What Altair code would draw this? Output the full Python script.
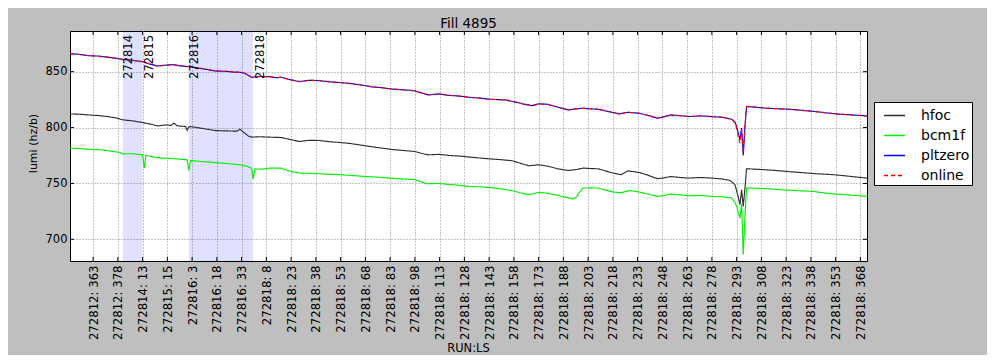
import altair as alt
import pandas as pd

title_text = "Fill 4895"
series_names = ["hfoc", "bcm1f", "pltzero", "online"]
series_colors = ["#2e2e2e", "#00f000", "#0000ff", "#ff0000"]
series_dash = [[1, 0], [1, 0], [1, 0], [4, 3]]

# x = lumisection index along the fill
pltzero_idx = [0, 5, 11, 17, 23, 28, 32, 38, 44, 48, 53, 58, 62, 67, 72, 78, 83, 88, 95, 100, 103, 106, 110, 115, 121, 125, 128, 133, 139, 145, 151, 157, 164, 170, 175, 179, 184, 189, 195, 200, 205, 209, 213, 217, 221, 224, 229, 235, 242, 248, 254, 259, 264, 270, 275, 280, 284, 289, 294, 298, 302, 306, 311, 315, 320, 326, 333, 338, 345, 350, 356, 360, 364, 370, 375, 382, 389, 395, 401, 403, 404, 405, 406, 407, 408, 409, 410, 415, 422, 429, 436, 444, 452, 459, 466, 474, 483]
pltzero_val = [866.0, 865.6, 864.3, 864.0, 862.9, 862.0, 861.0, 860.2, 858.9, 857.0, 855.1, 855.8, 856.3, 855.2, 854.5, 853.2, 852.0, 850.6, 850.3, 849.6, 849.5, 848.5, 845.0, 845.7, 845.5, 844.6, 845.0, 843.0, 841.1, 842.3, 842.0, 841.0, 840.2, 839.4, 838.3, 837.5, 836.2, 835.7, 834.5, 834.0, 833.4, 832.8, 831.0, 829.2, 829.8, 830.1, 828.9, 828.3, 827.1, 826.4, 825.4, 825.0, 824.7, 822.8, 821.0, 819.6, 821.2, 820.9, 819.0, 817.3, 815.8, 816.6, 817.3, 816.8, 816.4, 814.4, 812.2, 813.7, 812.8, 811.0, 808.4, 809.6, 811.3, 810.6, 809.8, 810.4, 809.8, 809.2, 807.5, 805.0, 800.9, 795.0, 789.0, 799.5, 775.0, 800.0, 818.8, 818.3, 817.3, 816.8, 816.4, 815.3, 814.3, 813.0, 812.0, 811.3, 810.4]

online_idx = [0, 5, 11, 17, 23, 28, 32, 38, 44, 48, 53, 58, 62, 67, 72, 78, 83, 88, 95, 100, 103, 106, 110, 115, 121, 125, 128, 133, 139, 145, 151, 157, 164, 170, 175, 179, 184, 189, 195, 200, 205, 209, 213, 217, 221, 224, 229, 235, 242, 248, 254, 259, 264, 270, 275, 280, 284, 289, 294, 298, 302, 306, 311, 315, 320, 326, 333, 338, 345, 350, 356, 360, 364, 370, 375, 382, 389, 395, 401, 403, 404, 405, 406, 407, 408, 409, 410, 415, 422, 429, 436, 444, 452, 459, 466, 474, 483]
online_val = [866.2, 865.4, 864.5, 863.8, 863.0, 861.8, 861.1, 860.0, 859.0, 857.1, 855.0, 855.9, 856.2, 855.3, 854.4, 853.3, 851.9, 850.7, 850.2, 849.7, 849.4, 848.6, 845.1, 845.6, 845.6, 844.5, 845.1, 842.9, 841.2, 842.2, 842.1, 840.9, 840.3, 839.3, 838.4, 837.4, 836.3, 835.6, 834.6, 833.9, 833.5, 832.7, 831.1, 829.3, 829.7, 830.2, 828.8, 828.4, 827.0, 826.5, 825.3, 825.1, 824.6, 822.9, 820.9, 819.7, 821.1, 821.0, 818.9, 817.4, 815.7, 816.7, 817.2, 816.9, 816.3, 814.5, 812.1, 813.8, 812.7, 811.1, 808.3, 809.7, 811.2, 810.7, 809.7, 810.5, 809.7, 809.3, 807.4, 804.5, 799.0, 792.0, 786.0, 798.0, 778.0, 801.0, 818.7, 818.4, 817.2, 816.9, 816.3, 815.4, 814.2, 813.1, 811.9, 811.4, 810.3]

hfoc_idx = [0, 5, 11, 17, 23, 28, 32, 38, 44, 49, 53, 58, 61, 63, 65, 70, 71, 72, 73, 80, 88, 95, 101, 103, 105, 108, 110, 115, 121, 128, 133, 139, 145, 151, 157, 164, 170, 179, 184, 189, 195, 201, 209, 213, 217, 224, 230, 236, 242, 248, 254, 261, 268, 273, 278, 284, 290, 296, 302, 307, 311, 316, 320, 325, 329, 334, 338, 345, 350, 356, 360, 364, 370, 375, 382, 389, 395, 400, 403, 405, 406, 407, 408, 409, 410, 415, 422, 430, 437, 444, 452, 463, 473, 483]
hfoc_val = [812.2, 812.0, 811.3, 810.8, 809.8, 808.6, 806.9, 806.0, 804.5, 803.0, 801.5, 802.4, 801.8, 803.9, 801.5, 801.0, 797.5, 800.5, 800.9, 799.3, 797.3, 797.0, 796.8, 798.5, 796.0, 792.5, 791.4, 791.8, 791.4, 791.1, 789.5, 787.5, 788.6, 788.4, 787.4, 786.6, 785.7, 783.7, 782.6, 781.6, 780.4, 779.6, 778.6, 777.0, 775.6, 776.0, 775.0, 774.5, 773.6, 772.8, 772.0, 771.3, 770.3, 768.0, 765.8, 766.7, 765.3, 763.0, 761.6, 762.5, 763.7, 763.3, 763.1, 761.0, 759.3, 757.8, 761.3, 759.8, 757.5, 754.2, 755.0, 756.2, 755.3, 754.8, 755.3, 754.8, 754.0, 752.7, 748.8, 738.0, 731.0, 744.4, 729.5, 745.0, 763.1, 762.8, 762.2, 761.3, 760.4, 759.6, 758.7, 757.8, 756.3, 754.8]

bcm1f_idx = [0, 6, 12, 19, 25, 30, 32, 38, 44, 45, 46, 51, 56, 62, 68, 71, 72, 73, 80, 87, 95, 103, 107, 110, 111, 112, 117, 121, 128, 133, 139, 145, 151, 157, 164, 170, 179, 184, 189, 195, 201, 209, 213, 216, 224, 230, 236, 242, 248, 254, 261, 268, 273, 278, 284, 289, 294, 300, 305, 307, 309, 311, 316, 320, 325, 329, 334, 339, 345, 350, 356, 360, 364, 370, 375, 382, 389, 395, 401, 403, 404, 405, 406, 407, 408, 409, 410, 415, 422, 430, 440, 450, 457, 464, 473, 483]
bcm1f_val = [781.6, 781.2, 780.4, 780.1, 778.8, 777.8, 776.5, 776.6, 775.6, 763.7, 775.3, 773.5, 772.7, 772.3, 771.5, 771.2, 761.6, 770.5, 769.6, 768.8, 767.8, 766.7, 765.5, 763.7, 754.0, 763.0, 762.8, 763.7, 763.7, 761.0, 759.3, 759.0, 758.7, 758.2, 757.8, 757.2, 756.2, 755.8, 755.4, 754.6, 754.1, 753.3, 751.5, 749.7, 750.0, 749.0, 748.4, 747.3, 747.0, 746.4, 745.2, 743.5, 741.6, 739.9, 742.0, 741.2, 739.9, 737.8, 736.0, 737.9, 742.5, 745.9, 746.0, 745.9, 743.9, 742.3, 741.7, 743.7, 742.3, 740.6, 738.4, 739.2, 740.5, 739.8, 739.0, 739.2, 738.4, 738.2, 737.0, 733.0, 729.5, 724.0, 719.1, 732.0, 686.3, 720.0, 745.9, 745.7, 745.3, 744.5, 743.6, 742.9, 741.5, 740.5, 739.6, 738.4]

# runs
run_names = ["272814", "272815", "272816", "272818"]
run_start = [32, 45, 72, 112]
band_start = [32, 72]
band_end = [44, 111]

tick_idx = [14, 29, 44, 59, 74, 89, 104, 119, 134, 149, 164, 179, 194, 209, 224, 239, 254, 269, 284, 299, 314, 329, 344, 359, 374, 389, 404, 419, 434, 449, 464, 479]
tick_labels = ["272812: 363", "272812: 378", "272814: 13", "272815: 15", "272816: 3", "272816: 18", "272816: 33",
               "272818: 8", "272818: 23", "272818: 38", "272818: 53", "272818: 68", "272818: 83", "272818: 98",
               "272818: 113", "272818: 128", "272818: 143", "272818: 158", "272818: 173", "272818: 188", "272818: 203",
               "272818: 218", "272818: 233", "272818: 248", "272818: 263", "272818: 278", "272818: 293", "272818: 308",
               "272818: 323", "272818: 338", "272818: 353", "272818: 368"]
y_ticks = [700, 750, 800, 850]

FONT = "DejaVu Sans"
W, H = 797, 230
TICK = 4

rows = []
for name, xs, ys in [("hfoc", hfoc_idx, hfoc_val), ("bcm1f", bcm1f_idx, bcm1f_val),
                     ("pltzero", pltzero_idx, pltzero_val), ("online", online_idx, online_val)]:
    for i, v in zip(xs, ys):
        rows.append({"series": name, "idx": i, "lumi": v})
df = pd.DataFrame(rows)
bands_df = pd.DataFrame({"start": band_start, "end": band_end})
runs_df = pd.DataFrame({"start": run_start, "run": run_names})
xt_df = pd.DataFrame({"t": tick_idx})
yt_df = pd.DataFrame({"t": y_ticks})

x_scale = alt.Scale(domain=[0, 483], nice=False, zero=False)
y_scale = alt.Scale(domain=[680.6, 886.4], nice=False, zero=False)

label_arr = "[" + ",".join("'" + s + "'" for s in tick_labels) + "]"
x_axis = alt.Axis(
    values=tick_idx, labelExpr=label_arr + "[round((datum.value-14)/15)]",
    labelAngle=270, labelFontSize=11.7, labelFont=FONT, labelColor="black", labelPadding=4,
    labelOverlap=False, labelFlush=False, tickSize=0, domain=False,
    grid=True, gridColor="#8c8c8c", gridDash=[1, 2], gridWidth=1,
    title="RUN:LS", titleFont=FONT, titleFontSize=11.5, titleFontWeight="normal", titleColor="black",
    titleX=398, titleY=87, titleBaseline="middle", titleAlign="center", titleAngle=0,
)
y_axis = alt.Axis(
    values=y_ticks, labelFontSize=11.5, labelFont=FONT, labelColor="black", labelPadding=3,
    tickSize=0, domain=False, grid=True, gridColor="#8c8c8c", gridDash=[1, 2], gridWidth=1,
    title="lumi (hz/b)", titleFont=FONT, titleFontSize=11, titleFontWeight="normal", titleColor="black",
    titleX=-37, titleY=112, titleAngle=270, titleBaseline="middle", titleAlign="center",
)

legend = alt.Legend(
    title=None, orient="none", legendX=804, legendY=71, direction="vertical",
    fillColor="white", strokeColor="black", padding=2, cornerRadius=0,
    symbolType="stroke", symbolSize=441, symbolStrokeWidth=1.3, symbolOffset=7,
    labelFontSize=14, labelFont=FONT, labelColor="black", labelOffset=15, rowPadding=1,
)

bands = alt.Chart(bands_df).mark_rect(color="#0000ff", opacity=0.12).encode(
    x=alt.X("start:Q", scale=x_scale, axis=x_axis),
    x2="end:Q",
)

# inward tick marks (matplotlib classic style) on all four sides
xt_bottom = alt.Chart(xt_df).mark_rule(color="black", strokeWidth=1).encode(
    x=alt.X("t:Q", scale=x_scale, axis=x_axis), y=alt.value(H - TICK), y2=alt.value(H))
xt_top = alt.Chart(xt_df).mark_rule(color="black", strokeWidth=1).encode(
    x=alt.X("t:Q", scale=x_scale, axis=x_axis), y=alt.value(0), y2=alt.value(TICK))
yt_left = alt.Chart(yt_df).mark_rule(color="black", strokeWidth=1).encode(
    y=alt.Y("t:Q", scale=y_scale, axis=y_axis), x=alt.value(0), x2=alt.value(TICK))
yt_right = alt.Chart(yt_df).mark_rule(color="black", strokeWidth=1).encode(
    y=alt.Y("t:Q", scale=y_scale, axis=y_axis), x=alt.value(W - TICK), x2=alt.value(W))

def line_layer(name):
    return alt.Chart(df).transform_filter(alt.datum.series == name).mark_line(
        strokeWidth=1.15, clip=True
    ).encode(
        x=alt.X("idx:Q", scale=x_scale, axis=x_axis),
        y=alt.Y("lumi:Q", scale=y_scale, axis=y_axis),
        color=alt.Color("series:N", scale=alt.Scale(domain=series_names, range=series_colors), legend=legend),
        strokeDash=alt.StrokeDash("series:N", scale=alt.Scale(domain=series_names, range=series_dash), legend=legend),
    )

lines = [line_layer(n) for n in series_names]

texts = alt.Chart(runs_df).mark_text(
    angle=270, align="right", baseline="top", fontSize=11.5, font=FONT, color="black"
).encode(
    x=alt.X("start:Q", scale=x_scale, axis=x_axis),
    y=alt.value(4),
    text="run:N",
)

chart = alt.layer(bands, xt_bottom, xt_top, yt_left, yt_right, *lines, texts).properties(
    width=W, height=H,
    title=alt.Title(title_text, fontSize=13.5, font=FONT, fontWeight="normal", color="black",
                    anchor="middle", offset=4, baseline="alphabetic", dy=15),
    autosize=alt.AutoSizeParams(type="none"),
    padding={"left": 62, "top": 23, "right": 120, "bottom": 94},
    background="#bfbfbf",
).configure_view(stroke="black", strokeWidth=1, fill="white")

chart.save("out.html", embed_options={"renderer": "svg", "actions": False})
